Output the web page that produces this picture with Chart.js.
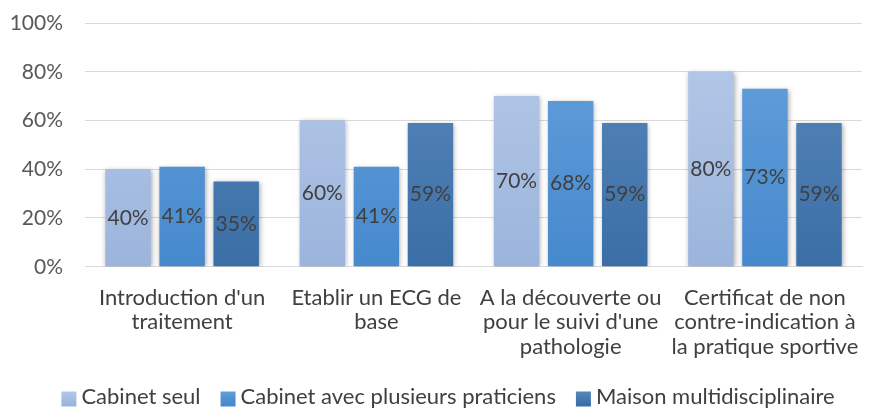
<!DOCTYPE html>
<html>
<head>
<meta charset="utf-8">
<script src="https://cdn.jsdelivr.net/npm/chart.js@4"></script>
<style>
  html, body { margin: 0; padding: 0; background: #fff; }
  #wrap { width: 870px; height: 418px; }
</style>
</head>
<body>
<div id="wrap"><canvas id="grafico"></canvas></div>
<script>
const categorias = [
  ["Introduction d'un", "traitement"],
  ["Etablir un ECG de", "base"],
  ["A la découverte ou", "pour le suivi d'une", "pathologie"],
  ["Certificat de non", "contre-indication à", "la pratique sportive"]
];
const series = ["Cabinet seul", "Cabinet avec plusieurs praticiens", "Maison multidisciplinaire"];
const cabinetSeul = [40, 60, 70, 80];
const cabinetPlusieurs = [41, 41, 68, 73];
const maison = [35, 59, 59, 59];

const couleurs = [
  ["#b7cbe9", "#9cb4dc"],
  ["#66a1dd", "#4689cd"],
  ["#5b8bbd", "#3a6ea6"]
];

function degrade(i){
  return function(context){
    const area = context.chart.chartArea;
    if(!area) return couleurs[i][0];
    const g = context.chart.ctx.createLinearGradient(0, area.top, 0, area.bottom);
    g.addColorStop(0, couleurs[i][0]);
    g.addColorStop(1, couleurs[i][1]);
    return g;
  };
}

const ombre = {
  id: "ombre",
  beforeDatasetsDraw(chart){
    const ctx = chart.ctx;
    ctx.save();
    ctx.shadowColor = "rgba(0,0,0,0.35)";
    ctx.shadowBlur = 5;
    ctx.shadowOffsetX = 1;
    ctx.shadowOffsetY = 1;
  },
  afterDatasetsDraw(chart){
    chart.ctx.restore();
  }
};

const etiquettes = {
  id: "etiquettes",
  afterDatasetsDraw(chart){
    const ctx = chart.ctx;
    ctx.save();
    ctx.font = "21px Lato";
    ctx.fillStyle = "#404040";
    ctx.textAlign = "center";
    ctx.textBaseline = "middle";
    chart.data.datasets.forEach((ds, i) => {
      chart.getDatasetMeta(i).data.forEach((bar, j) => {
        const y = (bar.y + bar.base) / 2;
        ctx.fillText(ds.data[j] + "%", bar.x, y);
      });
    });
    ctx.restore();
  }
};

// leyenda a mano para controlar el espacio entre cuadro y texto
const leyenda = {
  id: "leyenda",
  afterDraw(chart){
    const ctx = chart.ctx;
    ctx.save();
    ctx.font = "22px Lato";
    ctx.textBaseline = "middle";
    const caja = 15, sep = 5, espacio = 20;
    const anchos = series.map(s => ctx.measureText(s).width);
    const total = anchos.reduce((a, b) => a + b, 0) + series.length * (caja + sep) + (series.length - 1) * espacio;
    let x = (chart.width - total) / 2 + 13;
    const y = chart.height - 21;
    series.forEach((nom, i) => {
      const g = ctx.createLinearGradient(0, y - caja / 2, 0, y + caja / 2);
      g.addColorStop(0, couleurs[i][0]);
      g.addColorStop(1, couleurs[i][1]);
      ctx.fillStyle = g;
      ctx.fillRect(x, y - caja / 2 + 2, caja, caja);
      ctx.fillStyle = "#404040";
      ctx.fillText(nom, x + caja + sep, y);
      x += caja + sep + anchos[i] + espacio;
    });
    ctx.restore();
  }
};

const datos = [cabinetSeul, cabinetPlusieurs, maison];

new Chart(document.getElementById("grafico"), {
  type: "bar",
  data: {
    labels: categorias,
    datasets: series.map((nom, i) => ({
      label: nom,
      data: datos[i],
      backgroundColor: degrade(i),
      categoryPercentage: 0.835,
      barPercentage: 0.84
    }))
  },
  plugins: [ombre, etiquettes, leyenda],
  options: {
    responsive: true,
    maintainAspectRatio: false,
    animation: false,
    layout: { padding: { top: 2, right: 6, left: 8, bottom: 48 } },
    plugins: {
      tooltip: { enabled: false },
      legend: { display: false }
    },
    scales: {
      x: {
        grid: { display: false },
        border: { color: "#d9d9d9" },
        ticks: {
          color: "#404040",
          font: { family: "Lato", size: 22, lineHeight: 1.11 },
          padding: 11,
          maxRotation: 0,
          autoSkip: false
        }
      },
      y: {
        min: 0,
        max: 100,
        ticks: {
          stepSize: 20,
          color: "#595959",
          font: { family: "Lato", size: 21 },
          padding: 22,
          callback: v => v + "%"
        },
        grid: { color: "#d9d9d9", drawTicks: false },
        border: { display: false },
        afterFit(scale){
          scale.width = 77;
          scale.paddingTop = 23;
          scale.paddingBottom = 12;
        }
      }
    }
  }
});
</script>
</body>
</html>
